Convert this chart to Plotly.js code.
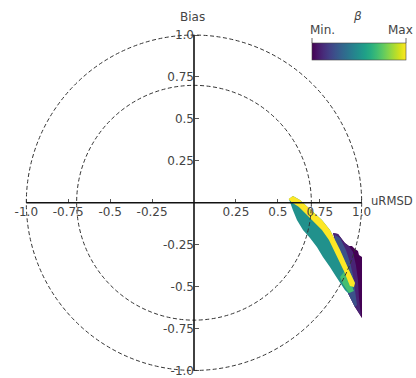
<!DOCTYPE html>
<html>
<head>
<meta charset="utf-8">
<script src="https://cdn.plot.ly/plotly-3.0.1.min.js"></script>
<style>html,body{margin:0;padding:0;background:#fff;}#chart{width:416px;height:378px;}</style>
</head>
<body>
<div id="chart"></div>
<script>
// Tick values / labels
const xTickVals = [-1.0, -0.75, -0.5, -0.25, 0.25, 0.5, 0.75, 1.0];
const xTickText = ['-1.0', '-0.75', '-0.5', '-0.25', '0.25', '0.5', '0.75', '1.0'];
const yTickVals = [-1.0, -0.75, -0.5, -0.25, 0.25, 0.5, 0.75, 1.0];
const yTickText = ['-1.0', '-0.75', '-0.5', '-0.25', '0.25', '0.5', '0.75', '1.0'];
const circleRadii = [1.0, 0.7];
const axisExtent = [-1.0, 1.0];

// Filled regions (uRMSD, Bias) for β levels, drawn back to front
const betaLevels = [0.0, 0.1, 0.25, 0.5, 0.7, 1.0];
const regionD_x = [0.829,0.859,0.877,0.900,0.924,0.942,0.960,0.978,0.984,1.002,1.002,0.960,0.930,0.918,0.960,0.924,0.871,0.841];
const regionD_y = [-0.181,-0.187,-0.210,-0.240,-0.258,-0.258,-0.276,-0.288,-0.312,-0.324,-0.688,-0.622,-0.562,-0.538,-0.479,-0.401,-0.282,-0.222];
const regionM_x = [0.829,0.859,0.877,0.900,0.924,0.948,0.966,0.978,0.984,0.996,0.960,0.930,0.918,0.960,0.924,0.871,0.841];
const regionM_y = [-0.181,-0.187,-0.210,-0.240,-0.258,-0.294,-0.372,-0.461,-0.568,-0.676,-0.622,-0.562,-0.538,-0.479,-0.401,-0.282,-0.222];
const regionB_x = [0.841,0.871,0.906,0.930,0.948,0.960,0.972,0.960,0.930,0.918,0.960,0.924,0.871,0.841];
const regionB_y = [-0.193,-0.210,-0.282,-0.354,-0.431,-0.521,-0.610,-0.622,-0.562,-0.538,-0.479,-0.401,-0.282,-0.222];
const regionT_x = [0.590,0.632,0.763,0.811,0.841,0.871,0.924,0.960,0.942,0.918,0.900,0.871,0.841,0.811,0.769,0.733,0.692,0.650,0.614,0.590,0.572,0.566];
const regionT_y = [0.040,0.016,-0.103,-0.163,-0.222,-0.282,-0.401,-0.479,-0.532,-0.538,-0.521,-0.479,-0.431,-0.383,-0.324,-0.264,-0.210,-0.163,-0.103,-0.044,-0.002,0.022];
const regionG_x = [0.894,0.936,0.954,0.924,0.888,0.871];
const regionG_y = [-0.413,-0.485,-0.526,-0.538,-0.485,-0.443];
const regionY_x = [0.590,0.632,0.763,0.811,0.841,0.871,0.924,0.960,0.954,0.930,0.894,0.835,0.805,0.763,0.704,0.626,0.580,0.564];
const regionY_y = [0.040,0.016,-0.103,-0.163,-0.222,-0.282,-0.401,-0.479,-0.503,-0.497,-0.407,-0.282,-0.222,-0.163,-0.103,-0.026,0.004,0.022];

const regions = [
  [regionD_x, regionD_y],
  [regionM_x, regionM_y],
  [regionB_x, regionB_y],
  [regionT_x, regionT_y],
  [regionG_x, regionG_y],
  [regionY_x, regionY_y]
];

const viridis = [
  [0.0, '#440154'], [0.1, '#482475'], [0.2, '#414487'], [0.3, '#355f8d'],
  [0.4, '#2a788e'], [0.5, '#21918c'], [0.6, '#22a884'], [0.7, '#44bf70'],
  [0.8, '#7ad151'], [0.9, '#bddf26'], [1.0, '#fde725']
];
function viridisAt(t) {
  for (let i = 1; i < viridis.length; i++) {
    if (t <= viridis[i][0]) {
      const a = viridis[i-1], b = viridis[i];
      const f = (t - a[0]) / (b[0] - a[0]);
      const ca = parseInt(a[1].slice(1), 16), cb = parseInt(b[1].slice(1), 16);
      const ch = s => Math.round(((ca >> s) & 255) * (1 - f) + ((cb >> s) & 255) * f);
      return 'rgb(' + ch(16) + ',' + ch(8) + ',' + ch(0) + ')';
    }
  }
  return viridis[viridis.length - 1][1];
}

const traces = regions.map((r, i) => ({
  type: 'scatter', mode: 'lines', x: r[0], y: r[1],
  fill: 'toself', fillcolor: viridisAt(betaLevels[i]),
  line: {width: 0, color: viridisAt(betaLevels[i])},
  hoverinfo: 'skip', showlegend: false
}));

// colorbar carrier
traces.push({
  type: 'scatter', mode: 'markers', x: [null, null], y: [null, null],
  showlegend: false, hoverinfo: 'skip',
  marker: {
    color: [0, 1], cmin: 0, cmax: 1, colorscale: 'Viridis', showscale: true,
    colorbar: {
      orientation: 'h', x: 312/416, xanchor: 'left', y: 1 - 42.5/378, yanchor: 'top',
      len: 94/416, lenmode: 'fraction', thickness: 17, thicknessmode: 'pixels',
      xpad: 0, ypad: 0, outlinewidth: 0.6, outlinecolor: '#444',
      showticklabels: false, ticks: ''
    }
  }
});

const shapes = [];
circleRadii.forEach(r => shapes.push({
  type: 'circle', xref: 'x', yref: 'y', x0: -r, x1: r, y0: -r, y1: r,
  line: {color: '#333', width: 1, dash: '4px,2.5px'}, layer: 'above'
}));
shapes.push({type: 'line', xref: 'x', yref: 'y', x0: axisExtent[0], x1: axisExtent[1], y0: 0, y1: 0,
  line: {color: '#111', width: 1.6}, layer: 'above'});
shapes.push({type: 'line', xref: 'x', yref: 'y', x0: 0, x1: 0, y0: axisExtent[0], y1: axisExtent[1],
  line: {color: '#111', width: 1.6}, layer: 'above'});
// colorbar end ticks
[312/416, 406/416].forEach(px => shapes.push({type: 'line', xref: 'paper', yref: 'paper',
  x0: px, x1: px, y0: 1 - 43/378, y1: 1 - 38/378, line: {color: '#444', width: 0.8}}));

const font = {family: 'DejaVu Sans', size: 12, color: '#444'};

const layout = {
  width: 416, height: 378,
  margin: {l: 0, r: 0, t: 0, b: 0, pad: 0},
  paper_bgcolor: '#fff', plot_bgcolor: '#fff',
  showlegend: false,
  font: font,
  xaxis: {
    range: [-1.157, 1.324], anchor: 'free', position: 1 - 202.7/378,
    showline: false, zeroline: false, showgrid: false,
    tickmode: 'array', tickvals: xTickVals, ticktext: xTickText,
    ticks: 'inside', ticklen: 4, tickwidth: 1, tickcolor: '#555',
    tickfont: font, fixedrange: true
  },
  yaxis: {
    range: [-1.045, 1.209], anchor: 'free', position: 194/416,
    showline: false, zeroline: false, showgrid: false,
    tickmode: 'array', tickvals: yTickVals, ticktext: yTickText,
    ticks: 'inside', ticklen: 4, tickwidth: 1, tickcolor: '#555',
    tickfont: font, fixedrange: true
  },
  shapes: shapes,
  annotations: [
    {text: 'Bias', xref: 'paper', yref: 'paper', x: 192/416, y: 1 - 17/378, showarrow: false, font: font, xanchor: 'center', yanchor: 'middle'},
    {text: 'uRMSD', xref: 'paper', yref: 'paper', x: 415/416, y: 1 - 201/378, showarrow: false, font: {family: 'DejaVu Sans', size: 11.6, color: '#444'}, xanchor: 'right', yanchor: 'middle'},
    {text: 'Min.', xref: 'paper', yref: 'paper', x: 322/416, y: 1 - 30/378, showarrow: false, font: font, xanchor: 'center', yanchor: 'middle'},
    {text: 'Max', xref: 'paper', yref: 'paper', x: 415/416, y: 1 - 30/378, showarrow: false, font: font, xanchor: 'right', yanchor: 'middle'},
    {text: '<i>β</i>', xref: 'paper', yref: 'paper', x: 357/416, y: 1 - 16/378, showarrow: false, font: font, xanchor: 'center', yanchor: 'middle'}
  ]
};

Plotly.newPlot('chart', traces, layout, {staticPlot: true, displayModeBar: false});
</script>
</body>
</html>
